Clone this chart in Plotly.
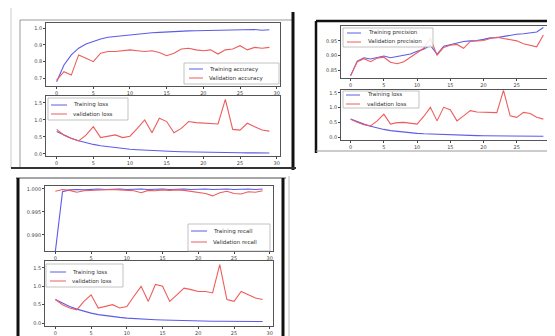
import plotly.graph_objects as go

W, H = 555, 336

# ---------------- data ----------------
epochs = list(range(30))
x_tick_vals = [0, 5, 10, 15, 20, 25, 30]

train_acc = [0.68, 0.78, 0.84, 0.88, 0.905, 0.92, 0.935, 0.945, 0.95, 0.955, 0.96, 0.963, 0.967, 0.972, 0.974,
             0.977, 0.979, 0.981, 0.983, 0.984, 0.985, 0.986, 0.988, 0.986, 0.989, 0.99, 0.99, 0.991, 0.987, 0.99]
val_acc = [0.69, 0.74, 0.72, 0.84, 0.82, 0.80, 0.85, 0.86, 0.86, 0.865, 0.87, 0.865, 0.86, 0.865, 0.855,
           0.835, 0.85, 0.875, 0.88, 0.87, 0.865, 0.87, 0.845, 0.87, 0.875, 0.895, 0.87, 0.885, 0.88, 0.885]
train_loss_1 = [0.66, 0.55, 0.46, 0.39, 0.33, 0.28, 0.24, 0.21, 0.18, 0.16, 0.14, 0.125, 0.11, 0.10, 0.09,
                0.08, 0.072, 0.066, 0.06, 0.055, 0.05, 0.046, 0.043, 0.04, 0.037, 0.035, 0.033, 0.031, 0.03, 0.028]
val_loss_1 = [0.72, 0.55, 0.45, 0.38, 0.55, 0.80, 0.48, 0.52, 0.56, 0.48, 0.52, 0.75, 1.00, 0.62, 1.05,
              0.95, 0.62, 0.75, 0.95, 0.92, 0.90, 0.90, 0.88, 1.60, 0.72, 0.70, 0.90, 0.80, 0.70, 0.67]

train_prec = [0.833, 0.882, 0.893, 0.889, 0.894, 0.899, 0.893, 0.897, 0.902, 0.906, 0.915, 0.922, 0.935, 0.905, 0.932,
              0.937, 0.943, 0.948, 0.950, 0.951, 0.955, 0.960, 0.961, 0.965, 0.970, 0.972, 0.974, 0.977, 0.980, 0.995]
val_prec = [0.833, 0.880, 0.890, 0.880, 0.892, 0.895, 0.878, 0.873, 0.880, 0.895, 0.912, 0.925, 0.958, 0.902, 0.928,
            0.935, 0.938, 0.925, 0.948, 0.950, 0.951, 0.958, 0.962, 0.958, 0.955, 0.950, 0.940, 0.935, 0.930, 0.970]
train_loss_2 = [0.61, 0.52, 0.44, 0.37, 0.31, 0.26, 0.22, 0.19, 0.165, 0.145, 0.125, 0.11, 0.10, 0.09, 0.08,
                0.072, 0.065, 0.06, 0.055, 0.05, 0.046, 0.043, 0.04, 0.037, 0.035, 0.033, 0.031, 0.03, 0.028, 0.027]
val_loss_2 = [0.61, 0.50, 0.42, 0.38, 0.55, 0.78, 0.44, 0.49, 0.50, 0.46, 0.44, 0.70, 1.01, 0.55, 1.01,
              0.93, 0.55, 0.72, 0.90, 0.85, 0.84, 0.84, 0.83, 1.59, 0.72, 0.67, 0.84, 0.80, 0.67, 0.61]

train_rec = [0.9864, 0.9994, 0.9998, 0.9999, 0.9998, 0.9999, 1.0, 0.9999, 1.0, 1.0, 0.9999, 1.0, 1.0, 0.9999, 1.0,
             1.0, 0.9999, 1.0, 1.0, 0.9999, 1.0, 1.0, 0.9999, 1.0, 1.0, 0.9999, 1.0, 1.0, 0.9999, 1.0]
val_rec = [0.9995, 0.9999, 0.9997, 0.9993, 0.9996, 0.9997, 0.9997, 0.9998, 0.9999, 0.9998, 0.9997, 0.9996, 0.9992,
           0.9997, 0.9996, 0.9998, 0.9997, 0.9998, 0.9997, 0.9995, 0.9993, 0.9990, 0.9985, 0.9992, 0.9995, 0.9990,
           0.9989, 0.9994, 0.9993, 0.9996]
train_loss_3 = [0.64, 0.54, 0.45, 0.38, 0.32, 0.27, 0.23, 0.20, 0.175, 0.155, 0.135, 0.12, 0.11, 0.10, 0.09,
                0.082, 0.075, 0.07, 0.065, 0.06, 0.057, 0.054, 0.051, 0.049, 0.047, 0.045, 0.044, 0.043, 0.042, 0.041]
val_loss_3 = [0.64, 0.50, 0.41, 0.36, 0.59, 0.77, 0.41, 0.45, 0.50, 0.41, 0.45, 0.73, 1.00, 0.59, 1.05,
              1.00, 0.59, 0.77, 0.95, 0.91, 0.86, 0.86, 0.82, 1.59, 0.64, 0.59, 0.86, 0.77, 0.68, 0.64]

series = [
    (train_acc, val_acc, "Training accuracy", "Validation accuracy"),
    (train_loss_1, val_loss_1, "Training loss", "validation loss"),
    (train_prec, val_prec, "Training precision", "Validation precision"),
    (train_loss_2, val_loss_2, "Training loss", "validation loss"),
    (train_rec, val_rec, "Training recall", "Validation recall"),
    (train_loss_3, val_loss_3, "Training loss", "validation loss"),
]
y_tick_vals = [
    [0.7, 0.8, 0.9, 1.0],
    [0.0, 0.5, 1.0, 1.5],
    [0.85, 0.90, 0.95],
    [0.0, 0.5, 1.0, 1.5],
    [0.990, 0.995, 1.000],
    [0.0, 0.5, 1.0, 1.5],
]
y_tick_fmt = [".1f", ".1f", ".2f", ".1f", ".3f", ".1f"]

# ---------------- layout geometry (pixels) ----------------
axes_px = [
    (38, 272, 15, 78),
    (38, 272, 88, 148),
    (333, 545, 18, 70),
    (333, 545, 82, 132),
    (37, 265, 178, 243),
    (37, 265, 253, 318),
]
y_ranges = [
    [0.655, 1.03],
    [-0.06, 1.70],
    [0.825, 1.0],
    [-0.10, 1.60],
    [0.9865, 1.00065],
    [-0.08, 1.69],
]
# legend boxes: (x0, x1, y0, y1, line_x0, line_x1, text_x, row1_y, row2_y)
legends_px = [
    (176, 271, 55, 76, 181, 195, 199, 61, 70),
    (40, 120, 90, 112, 43, 59, 63, 97, 106),
    (335, 425, 20, 39, 339, 353, 358, 25, 34),
    (335, 411, 83, 100, 338, 352, 357, 87, 96),
    (180, 262, 216, 243, 183, 199, 203, 223, 234),
    (38, 115, 256, 279, 42, 58, 62, 264, 273),
]

BLUE = "#5c5ce8"
RED = "#ee5c5c"
FONT = "DejaVu Sans"


def px(x):
    return x / W


def py(y):
    return 1 - y / H


fig = go.Figure()
layout = dict(
    width=W, height=H, margin=dict(l=0, r=0, t=0, b=0),
    paper_bgcolor="white", plot_bgcolor="white", showlegend=False,
    font=dict(family=FONT, size=5, color="#333"),
)

shapes = []
annotations = []

for i, (tr, va, ltr, lva) in enumerate(series):
    n = i + 1
    sfx = "" if n == 1 else str(n)
    fig.add_trace(go.Scatter(x=epochs, y=tr, mode="lines", name=ltr,
                             line=dict(color=BLUE, width=1.1), xaxis="x" + sfx, yaxis="y" + sfx))
    fig.add_trace(go.Scatter(x=epochs, y=va, mode="lines", name=lva,
                             line=dict(color=RED, width=1.1), xaxis="x" + sfx, yaxis="y" + sfx))
    x0, x1, y0, y1 = axes_px[i]
    layout["xaxis" + sfx] = dict(
        domain=[px(x0), px(x1)], anchor="y" + sfx, range=[-1.45, 30.45],
        tickvals=x_tick_vals, ticks="outside", ticklen=2, tickwidth=0.6, tickcolor="#444",
        showline=True, linecolor="#555", linewidth=0.8, mirror=True, showgrid=False, zeroline=False,
        tickfont=dict(size=5, color="#444", family=FONT),
    )
    layout["yaxis" + sfx] = dict(
        domain=[py(y1), py(y0)], anchor="x" + sfx, range=y_ranges[i],
        tickvals=y_tick_vals[i], tickformat=y_tick_fmt[i], ticks="outside", ticklen=2, tickwidth=0.6,
        tickcolor="#444", showline=True, linecolor="#555", linewidth=0.8, mirror=True, showgrid=False,
        zeroline=False, tickfont=dict(size=5, color="#444", family=FONT),
    )
    # legend drawn as shapes + text
    bx0, bx1, by0, by1, lx0, lx1, tx, r1, r2 = legends_px[i]
    shapes.append(dict(type="rect", xref="paper", yref="paper", x0=px(bx0), x1=px(bx1), y0=py(by1), y1=py(by0),
                       line=dict(color="#aaa", width=0.7), fillcolor="rgba(255,255,255,0.85)", layer="above"))
    for ry, col, lab in [(r1, BLUE, ltr), (r2, RED, lva)]:
        shapes.append(dict(type="line", xref="paper", yref="paper", x0=px(lx0), x1=px(lx1), y0=py(ry), y1=py(ry),
                           line=dict(color=col, width=1), layer="above"))
        annotations.append(dict(xref="paper", yref="paper", x=px(tx), y=py(ry), text=lab, showarrow=False,
                                xanchor="left", yanchor="middle", font=dict(size=5.5, color="#333", family=FONT)))

# panel frames
def line(xa, ya, xb, yb, color, width):
    shapes.append(dict(type="line", xref="paper", yref="paper", x0=px(xa), y0=py(ya), x1=px(xb), y1=py(yb),
                       line=dict(color=color, width=width), layer="above"))

# panel 1
line(12, 12, 284, 12, "#999", 1)
line(12, 12, 12, 160, "#999", 1)
line(3, 0, 3, 160, "#ccc", 1)
line(285, 4, 285, 162, "#111", 3)
line(3, 160, 288, 160, "#333", 2)
# panel 2
line(308, 13, 553, 13, "#111", 2.5)
line(308, 13, 308, 145, "#111", 2.5)
line(308, 143, 553, 143, "#999", 1)
line(553, 13, 553, 143, "#bbb", 1)
# panel 3
line(8, 170, 278, 170, "#888", 1.5)
line(10, 170, 10, 336, "#111", 3)
line(275, 170, 275, 336, "#111", 3)
line(281, 168, 281, 336, "#bbb", 1)

layout["shapes"] = shapes
layout["annotations"] = annotations
fig.update_layout(**layout)
fig.write_html("out.html")
